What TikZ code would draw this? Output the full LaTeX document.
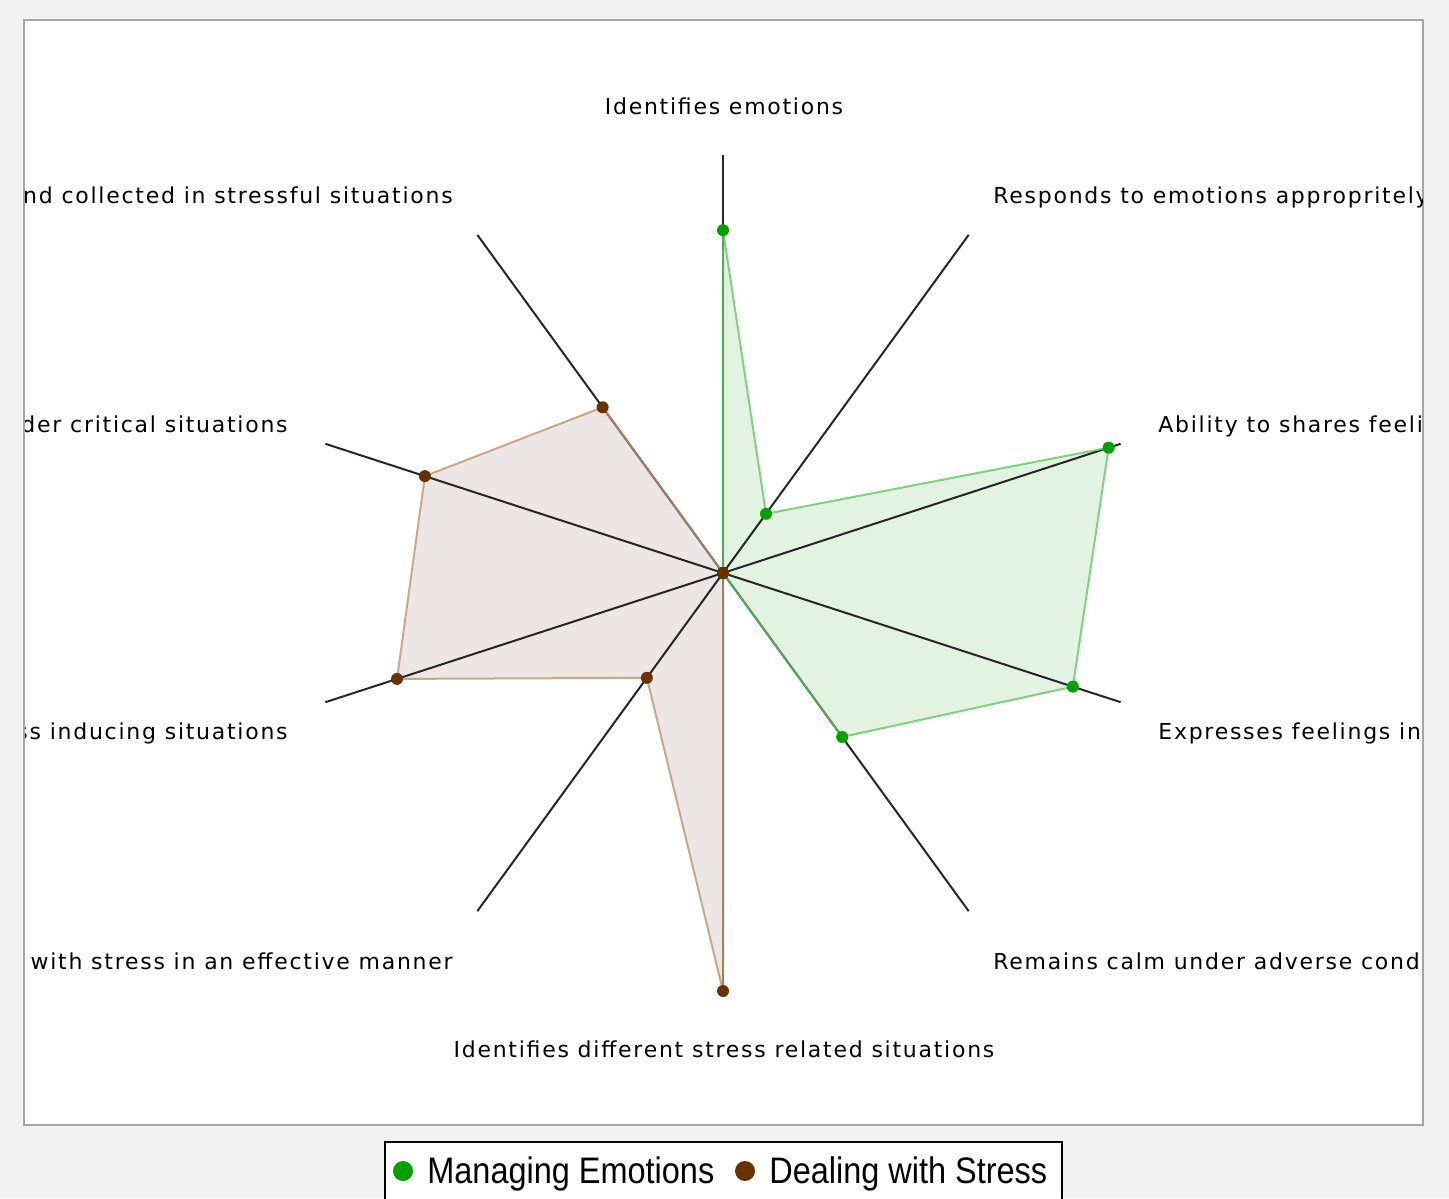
\documentclass[tikz,border=0pt]{standalone}
\usepackage{fontspec}
\usetikzlibrary{calc}
\newfontfamily\axisfont[LetterSpace=8]{DejaVu Sans}
\newfontfamily\legendfont[FakeStretch=0.88]{Liberation Sans}
\definecolor{panelgray}{RGB}{242,242,242}
\definecolor{framegray}{RGB}{165,165,165}
\definecolor{emogreen}{RGB}{0,160,0}
\definecolor{emoedge}{RGB}{100,200,100}
\definecolor{emofill}{RGB}{226,243,226}
\definecolor{stressbrown}{RGB}{102,51,0}
\definecolor{stressedge}{RGB}{190,150,110}
\definecolor{stressfill}{RGB}{236,231,228}

\begin{document}
\begin{tikzpicture}[x=0.02cm,y=0.02cm,
    axisline/.style={line width=0.04cm, black!85},
    axislabel/.style={font=\axisfont\fontsize{12.5}{14}\selectfont, inner sep=0pt},
    dot/.style={circle, fill=#1, inner sep=0pt, minimum size=0.24cm},
    keydot/.style={circle, fill=#1, inner sep=0pt, minimum size=0.4cm},
    keytext/.style={font=\legendfont\fontsize{21}{24}\selectfont, inner sep=0pt, anchor=mid west}]
    % Page and plot frame
    \clip (0,0) rectangle (1449,1198);
    \fill[panelgray] (0,0) rectangle (1449,1198);
    \filldraw[fill=white, draw=framegray, line width=0.04cm] (24,73) rectangle (1423,1178);
    \begin{scope}
        \clip (25,74) rectangle (1422,1177);
        % Centre and axis ends
        \coordinate (c) at (723,625);
        \foreach \i in {0,...,9}
            \coordinate (a\i) at ($(c)+({90-36*\i}:418)$);
        % Series values
        \foreach \i/\g/\b in {0/0.82/0, 1/0.175/0, 2/0.97/0, 3/0.88/0, 4/0.485/0,
                              5/0/1.0, 6/0/0.31, 7/0/0.82, 8/0/0.75, 9/0/0.49} {
            \coordinate (g\i) at ($(c)!\g!(a\i)$);
            \coordinate (b\i) at ($(c)!\b!(a\i)$);
        }
        % Filled areas
        \fill[emofill] (g0) \foreach \i in {1,...,9}{ -- (g\i)} -- cycle;
        \fill[stressfill] (b0) \foreach \i in {1,...,9}{ -- (b\i)} -- cycle;
        % Axes
        \foreach \i in {0,...,9}
            \draw[axisline] (c) -- (a\i);
        % Outlines
        \draw[emoedge, line width=0.04cm, opacity=0.8] (g0) \foreach \i in {1,...,9}{ -- (g\i)} -- cycle;
        \draw[stressedge, line width=0.04cm, opacity=0.8] (b0) \foreach \i in {1,...,9}{ -- (b\i)} -- cycle;
        % Points
        \foreach \i in {0,...,9}
            \node[dot=emogreen] (gp\i) at (g\i) {};
        \foreach \i in {0,...,9}
            \node[dot=stressbrown] (bp\i) at (b\i) {};
        % Axis labels
        \node[axislabel, anchor=mid] (lbl0) at (724,1087) {Identifies emotions};
        \node[axislabel, anchor=mid west] (lbl1) at (993,998) {Responds to emotions appropritely};
        \node[axislabel, anchor=mid west] (lbl2) at (1158,769) {Ability to shares feelings};
        \node[axislabel, anchor=mid west] (lbl3) at (1158,462) {Expresses feelings in};
        \node[axislabel, anchor=mid west] (lbl4) at (993,232) {Remains calm under adverse conditions};
        \node[axislabel, anchor=mid] (lbl5) at (724,144) {Identifies different stress related situations};
        \node[axislabel, anchor=mid east] (lbl6) at (453,232) {Cope with stress in an effective manner};
        \node[axislabel, anchor=mid east] (lbl7) at (288,462) {stress inducing situations};
        \node[axislabel, anchor=mid east] (lbl8) at (288,769) {under critical situations};
        \node[axislabel, anchor=mid east] (lbl9) at (453,998) {calm and collected in stressful situations};
    \end{scope}
    % Legend
    \filldraw[fill=white, draw=black, line width=0.04cm] (385,-20) rectangle (1062,56);
    \node[keydot=emogreen] (key1) at (403,27) {};
    \node[keytext] (keylbl1) at (427,18) {Managing Emotions};
    \node[keydot=stressbrown] (key2) at (745,27) {};
    \node[keytext] (keylbl2) at (769,18) {Dealing with Stress};
\end{tikzpicture}
\end{document}
